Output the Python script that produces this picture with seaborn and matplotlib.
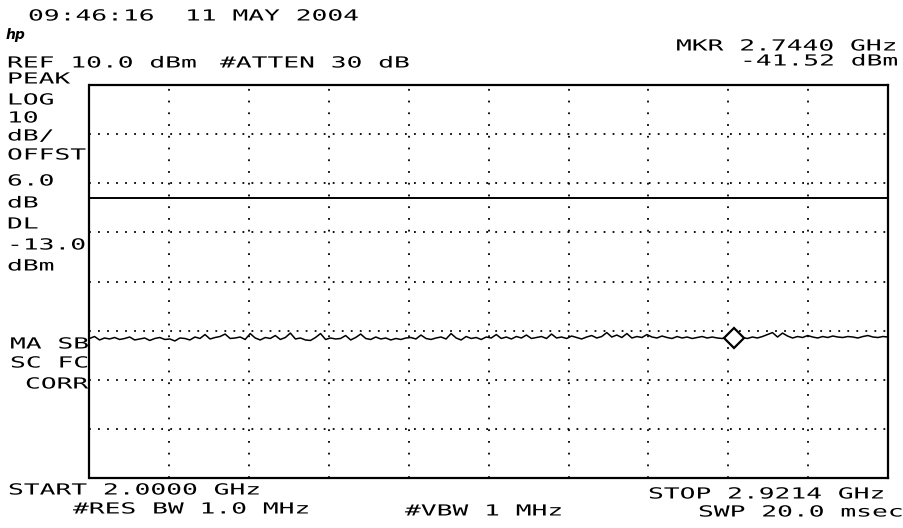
import numpy as np
import pandas as pd
import seaborn as sns
import matplotlib
matplotlib.use("Agg")
import matplotlib.pyplot as plt
from matplotlib import patheffects
from matplotlib.transforms import Affine2D

# -------------------------
# Instrument settings / data
# -------------------------
start_ghz = 2.0
stop_ghz = 2.9214
ref_dbm = 10.0
db_per_div = 10
n_rows = 8
n_cols = 10
display_line_dbm = -13.0
marker_ghz = 2.7440
marker_dbm = -41.52

# trace, left to right (dBm)
trace_dbm = [
    -41.6, -41.2, -41.9, -41.5, -41.7, -41.4, -41.8, -41.6, -41.3, -41.9,
    -41.7, -41.5, -42.0, -41.6, -41.4, -41.8, -41.7, -42.1, -41.5, -41.6,
    -41.9, -41.3, -41.6, -40.8, -41.7, -41.4, -41.2, -40.7, -41.6, -41.5,
    -41.3, -41.8, -40.6, -41.5, -41.9, -41.4, -41.6, -41.0, -41.8, -41.4,
    -40.5, -41.7, -41.5, -41.9, -42.0, -41.4, -40.6, -41.8, -41.5, -41.7,
    -41.6, -41.0, -41.9, -41.4, -40.7, -41.6, -41.8, -41.3, -41.7, -41.5,
    -41.9, -41.6, -41.8, -41.5, -41.4, -41.7, -40.9, -41.6, -41.8, -41.5,
    -41.3, -41.7, -40.6, -41.5, -41.9, -41.2, -41.6, -41.4, -41.8, -41.3,
    -41.5, -40.8, -41.6, -41.3, -41.7, -41.2, -41.5, -40.9, -41.6, -41.4,
    -41.2, -41.6, -40.7, -41.5, -41.3, -41.6, -41.1, -41.4, -41.7, -41.3,
    -41.0, -41.5, -41.2, -40.4, -41.3, -40.9, -41.4, -40.6, -41.5, -41.2,
    -41.4, -40.8, -41.3, -41.5, -41.1, -41.4, -41.6, -41.2, -41.5, -41.3,
    -41.6, -41.4, -41.2, -41.5, -41.3, -41.5, -41.6, -41.4, -41.5, -41.5,
    -41.4, -41.6, -41.3, -41.5, -41.2, -40.8, -40.4, -41.3, -40.5, -41.1,
    -41.5, -41.2, -41.4, -41.0, -41.3, -41.5, -41.2, -41.4, -41.1, -41.3,
    -41.4, -41.2, -41.3, -41.5, -41.2, -41.0, -41.3, -41.4, -41.2, -41.3,
]

trace = pd.DataFrame({
    "freq": np.linspace(start_ghz, stop_ghz, len(trace_dbm)),
    "level": trace_dbm,
})

# -------------------------
# HP style text (wide letter pitch)
# -------------------------
class Stretch(patheffects.AbstractPathEffect):
    def __init__(self, sx):
        super().__init__()
        self.sx = sx

    def draw_path(self, renderer, gc, tpath, affine, rgbFace=None):
        renderer.draw_path(gc, tpath, Affine2D().scale(self.sx, 1) + affine, rgbFace)


W, H = 904, 528
sns.set_theme(style="white")
plt.rcParams["font.family"] = ["DejaVu Sans Mono", "DejaVu Sans"]

fig = plt.figure(figsize=(W / 100, H / 100), dpi=100)
fig.patch.set_facecolor("white")

box_l, box_r, box_t, box_b = 89.5, 888, 85, 478
ax = fig.add_axes([box_l / W, 1 - box_b / H, (box_r - box_l) / W, (box_b - box_t) / H])


def label(x, y, s):
    fig.text(x / W, 1 - (y + 5.5) / H, s, ha="left", va="baseline",
             fontsize=11.0, color="black", path_effects=[Stretch(1.72)])


# -------------------------
# Plot
# -------------------------
bottom_dbm = ref_dbm - n_rows * db_per_div
span = stop_ghz - start_ghz

for k in range(1, n_rows):
    ax.axhline(ref_dbm - k * db_per_div, color="black", lw=1.3,
               linestyle=(0, (1, 4.0)), zorder=1)
for k in range(1, n_cols):
    ax.axvline(start_ghz + k * span / n_cols, color="black", lw=1.3,
               linestyle=(0, (1, 5.5)), zorder=1)

ax.axhline(display_line_dbm, color="black", lw=1.4, zorder=2)

sns.lineplot(data=trace, x="freq", y="level", color="black", linewidth=1.1,
             ax=ax, zorder=3)
ax.plot([marker_ghz], [marker_dbm], marker="D", markersize=10,
        markerfacecolor="white", markeredgecolor="black", markeredgewidth=1.6,
        linestyle="none", zorder=4)

ax.set_xlim(start_ghz, stop_ghz)
ax.set_ylim(bottom_dbm, ref_dbm)
ax.set_xticks([])
ax.set_yticks([])
ax.set_xlabel("")
ax.set_ylabel("")
for side in ax.spines.values():
    side.set_visible(True)
    side.set_color("black")
    side.set_linewidth(1.6)

# -------------------------
# Screen annotations
# -------------------------
label(28, 15, "09:46:16")
label(185, 15, "11 MAY 2004")
fig.text(6 / W, 1 - 39 / H, "hp", ha="left", va="baseline", fontsize=10,
         style="italic", weight="bold", family="DejaVu Sans", color="black")
label(7, 62, "REF 10.0 dBm")
label(220, 62, "#ATTEN 30 dB")
label(676, 45, "MKR 2.7440 GHz")
label(740, 60, "-41.52 dBm")

side_labels = ["PEAK", "LOG", "10", "dB/", "OFFST", "6.0", "dB", "DL", "-13.0", "dBm"]
side_y = [78, 99, 117, 135, 154, 180, 202, 223, 244, 265]
for s, y in zip(side_labels, side_y):
    label(7, y, s)

label(10, 343, "MA SB")
label(10, 362, "SC FC")
label(25, 383, "CORR")

label(8, 489, "START 2.0000 GHz")
label(73, 508, "#RES BW 1.0 MHz")
label(405, 510, "#VBW 1 MHz")
label(648, 493, "STOP 2.9214 GHz")
label(698, 511, "SWP 20.0 msec")

fig.savefig("out.png", dpi=100, facecolor="white")
